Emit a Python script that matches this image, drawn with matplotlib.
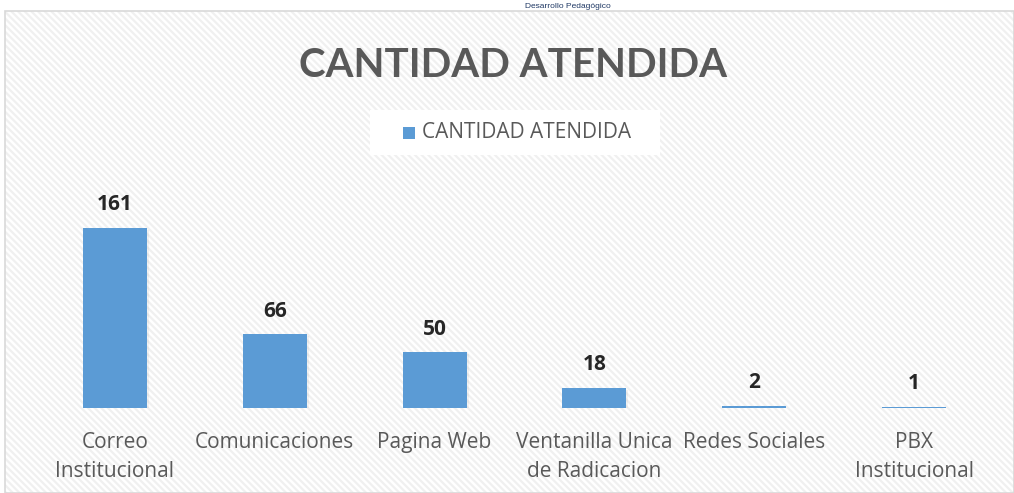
import matplotlib
matplotlib.use("Agg")
import matplotlib.pyplot as plt
from matplotlib.patches import Rectangle
import matplotlib.patheffects as pe

categories = ["Correo\nInstitucional", "Comunicaciones", "Pagina Web",
              "Ventanilla Unica\nde Radicacion", "Redes Sociales", "PBX\nInstitucional"]
values = [161, 66, 50, 18, 2, 1]
series_name = "CANTIDAD ATENDIDA"
title = "CANTIDAD ATENDIDA"

plt.rcParams["hatch.color"] = "#F0F0F0"
plt.rcParams["hatch.linewidth"] = 1.6

W, H = 1014, 493
fig = plt.figure(figsize=(W / 100, H / 100), dpi=100)
fig.patch.set_facecolor("white")

def fx(px):
    return px / W

def fy(py):
    return 1 - py / H

# striped chart background
bg = Rectangle((fx(5), 0), 1 - fx(5), fy(11), transform=fig.transFigure,
               facecolor="white", edgecolor="#F0F0F0", hatch="\\" * 5,
               linewidth=0, zorder=-5)
fig.patches.append(bg)
border = Rectangle((fx(5), 0), 1 - fx(5), fy(11), transform=fig.transFigure,
                   facecolor="none", edgecolor="#D9D9D9", linewidth=1.2, zorder=-4)
fig.patches.append(border)

# header text above chart
fig.text(fx(568), fy(6), "Desarrollo Pedagógico", ha="center", va="center",
         fontsize=6, color="#1F3864", family="Liberation Sans")

# legend box
leg_box = Rectangle((fx(370), fy(155)), fx(290), (155 - 110) / H,
                    transform=fig.transFigure, facecolor="white", edgecolor="none", zorder=-3)
fig.patches.append(leg_box)
fig.patches.append(Rectangle((fx(403), fy(139)), fx(12), 12 / H, transform=fig.transFigure,
                             facecolor="#5B9BD5", edgecolor="none", zorder=-2))
fig.text(fx(422), fy(132), series_name, ha="left", va="center", fontsize=15,
         color="#595959", family="Open Sans")

# title
fig.text(fx(513), fy(65), title, ha="center", va="center", fontsize=29,
         fontweight="bold", color="#595959", family="Lato")

# axes
ax_left, ax_right = 35, 994
ax_bottom, ax_top = 408, 200
px_per_unit = 180 / 161
ax = fig.add_axes([fx(ax_left), fy(ax_bottom), fx(ax_right - ax_left),
                   (ax_bottom - ax_top) / H])
ax.set_facecolor("none")
x = list(range(len(categories)))
bars = ax.bar(x, values, width=0.4, color="#5B9BD5", zorder=3)
for b in bars:
    b.set_path_effects([pe.SimplePatchShadow(offset=(1.5, -1.5), shadow_rgbFace="#999999", alpha=0.12),
                        pe.Normal()])
ax.set_xlim(-0.5, len(categories) - 0.5)
ax.set_ylim(0, (ax_bottom - ax_top) / px_per_unit)
for xi, v in zip(x, values):
    ax.annotate(str(v), (xi, v), xytext=(0, 9), textcoords="offset points",
                ha="center", va="bottom", fontsize=15, fontweight="bold",
                color="#262626", family="Open Sans")
ax.set_xticks(x)
ax.set_xticklabels(categories, fontsize=15, color="#595959", family="Open Sans",
                   linespacing=1.55, va="top")
ax.tick_params(axis="x", length=0, pad=17)
ax.set_yticks([])
for s in ax.spines.values():
    s.set_visible(False)

fig.savefig("out.png", dpi=100)
